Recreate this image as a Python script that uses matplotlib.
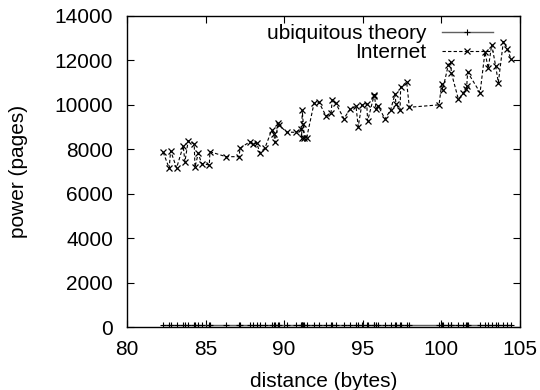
import numpy as np
import matplotlib
matplotlib.use('Agg')
import matplotlib.pyplot as plt

plt.rcParams['font.family'] = ['Liberation Sans', 'DejaVu Sans']

# distance (bytes) of each sample
distance = [82.31, 82.69, 82.78, 83.16, 83.58, 83.69, 83.90, 84.28, 84.33, 84.54,
            84.75, 85.24, 85.28, 86.30, 87.14, 87.19, 87.82, 88.04, 88.25, 88.46,
            88.78, 89.20, 89.35, 89.41, 89.63, 89.66, 90.16, 90.75, 91.07, 91.11,
            91.15, 91.22, 91.27, 91.43, 91.90, 92.21, 92.66, 92.98, 93.06, 93.28,
            93.80, 94.19, 94.57, 94.71, 94.93, 95.25, 95.31, 95.71, 95.74, 95.84,
            95.99, 96.41, 96.77, 97.05, 97.11, 97.37, 97.41, 97.79, 97.96, 99.85,
            100.02, 100.08, 100.44, 100.58, 100.64, 101.08, 101.40, 101.55, 101.61, 101.67,
            102.46, 102.77, 102.98, 103.20, 103.45, 103.62, 103.94, 104.19, 104.41]

# Internet series (pages)
internet = [7865, 7144, 7937, 7160, 8149, 7442, 8388, 8239, 7200, 7820,
            7360, 7293, 7892, 7667, 7667, 8045, 8343, 8239, 8285, 7840,
            8060, 8850, 8700, 8310, 9198, 9100, 8770, 8765, 8930, 8530,
            9750, 9125, 8500, 8510, 10071, 10120, 9505, 9620, 10230, 10071,
            9380, 9805, 9940, 9018, 9980, 10060, 9280, 10400, 10460, 9820,
            9950, 9360, 9769, 10490, 10040, 9769, 10800, 11030, 9891, 10000,
            10950, 10680, 11795, 11945, 11420, 10255, 10521, 10700, 10830, 11470,
            10550, 12370, 11645, 12710, 11750, 11000, 12845, 12530, 12080]

# ubiquitous theory series (pages), sits just above zero
ubiquitous = [70] * len(distance)

fs = 15

fig = plt.figure(figsize=(5.4, 3.9), dpi=100)
ax = fig.add_axes([0.235, 0.1615, 0.728, 0.7975])

ax.plot(distance, ubiquitous, color='#606060', linewidth=1.0, marker='+',
        markersize=5, markeredgecolor='black', markeredgewidth=0.8,
        label='ubiquitous theory')
ax.plot(distance, internet, color='black', linewidth=0.8, linestyle=(0, (3, 2)),
        marker='x', markersize=5, markeredgewidth=0.9, label='Internet')

ax.set_xlim(80, 105)
ax.set_ylim(0, 14000)
ax.set_xticks(np.arange(80, 106, 5))
ax.set_yticks(np.arange(0, 14001, 2000))
ax.tick_params(direction='in', top=True, right=True, labelsize=fs, length=5)
ax.tick_params(axis='x', pad=9)
ax.tick_params(axis='y', pad=10)
for s in ax.spines.values():
    s.set_linewidth(1.0)

ax.set_xlabel('distance (bytes)', fontsize=fs, labelpad=10)
ax.set_ylabel('power (pages)', fontsize=fs, labelpad=19)

ax.legend(loc='upper right', frameon=False, fontsize=fs, markerfirst=False,
          handlelength=2.45, handletextpad=0.75, labelspacing=0.0,
          borderaxespad=0.0, bbox_to_anchor=(0.952, 1.0))

fig.savefig('out.png', dpi=100)
